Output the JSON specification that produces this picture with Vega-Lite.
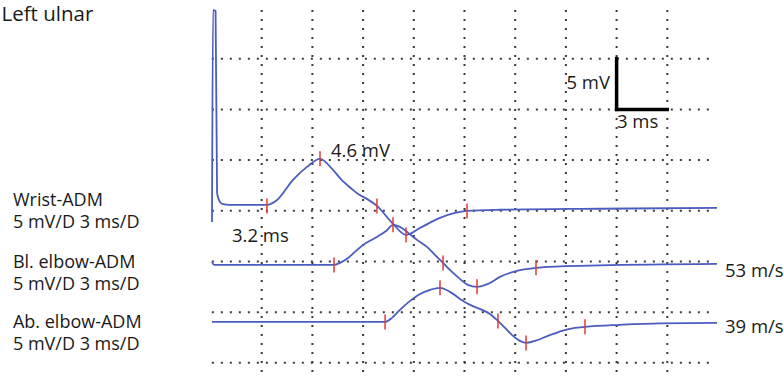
{
  "$schema": "https://vega.github.io/schema/vega-lite/v6.json",
  "width": 507,
  "height": 365,
  "autosize": {"type": "none"},
  "padding": {"left": 211, "top": 8, "right": 66, "bottom": 4},
  "background": "white",
  "view": {"stroke": null},
  "config": {"font": "Open Sans"},
  "datasets": {
    "traces": [
      {"trace": "Wrist-ADM", "t": 0.06, "v": 13.9},
      {"trace": "Wrist-ADM", "t": 0.12, "v": 34.8},
      {"trace": "Wrist-ADM", "t": 0.27, "v": 34.7},
      {"trace": "Wrist-ADM", "t": 0.36, "v": 16.77},
      {"trace": "Wrist-ADM", "t": 0.47, "v": 16.07},
      {"trace": "Wrist-ADM", "t": 0.65, "v": 15.68},
      {"trace": "Wrist-ADM", "t": 1.12, "v": 15.58},
      {"trace": "Wrist-ADM", "t": 3.31, "v": 15.58},
      {"trace": "Wrist-ADM", "t": 3.91, "v": 16.07},
      {"trace": "Wrist-ADM", "t": 4.85, "v": 18.05},
      {"trace": "Wrist-ADM", "t": 5.68, "v": 19.33},
      {"trace": "Wrist-ADM", "t": 6.45, "v": 20.12},
      {"trace": "Wrist-ADM", "t": 7.22, "v": 19.03},
      {"trace": "Wrist-ADM", "t": 7.7, "v": 18.1},
      {"trace": "Wrist-ADM", "t": 8.3, "v": 17.2},
      {"trace": "Wrist-ADM", "t": 8.75, "v": 16.6},
      {"trace": "Wrist-ADM", "t": 9.2, "v": 16.2},
      {"trace": "Wrist-ADM", "t": 9.82, "v": 15.48},
      {"trace": "Wrist-ADM", "t": 10.77, "v": 13.71},
      {"trace": "Wrist-ADM", "t": 11.54, "v": 12.62},
      {"trace": "Wrist-ADM", "t": 12.37, "v": 13.31},
      {"trace": "Wrist-ADM", "t": 13.55, "v": 14.3},
      {"trace": "Wrist-ADM", "t": 14.44, "v": 14.79},
      {"trace": "Wrist-ADM", "t": 15.15, "v": 14.99},
      {"trace": "Wrist-ADM", "t": 17.1, "v": 15.1},
      {"trace": "Wrist-ADM", "t": 23.0, "v": 15.2},
      {"trace": "Wrist-ADM", "t": 29.94, "v": 15.29},
      {"trace": "Bl. elbow-ADM", "t": 0.06, "v": 9.96},
      {"trace": "Bl. elbow-ADM", "t": 0.18, "v": 9.66},
      {"trace": "Bl. elbow-ADM", "t": 2.31, "v": 9.66},
      {"trace": "Bl. elbow-ADM", "t": 7.28, "v": 9.66},
      {"trace": "Bl. elbow-ADM", "t": 7.63, "v": 9.86},
      {"trace": "Bl. elbow-ADM", "t": 8.05, "v": 10.26},
      {"trace": "Bl. elbow-ADM", "t": 8.52, "v": 10.95},
      {"trace": "Bl. elbow-ADM", "t": 9.0, "v": 11.64},
      {"trace": "Bl. elbow-ADM", "t": 9.82, "v": 12.42},
      {"trace": "Bl. elbow-ADM", "t": 10.36, "v": 13.0},
      {"trace": "Bl. elbow-ADM", "t": 10.77, "v": 13.61},
      {"trace": "Bl. elbow-ADM", "t": 11.18, "v": 13.41},
      {"trace": "Bl. elbow-ADM", "t": 11.6, "v": 12.92},
      {"trace": "Bl. elbow-ADM", "t": 12.19, "v": 12.13},
      {"trace": "Bl. elbow-ADM", "t": 12.78, "v": 11.44},
      {"trace": "Bl. elbow-ADM", "t": 13.25, "v": 10.65},
      {"trace": "Bl. elbow-ADM", "t": 13.73, "v": 9.86},
      {"trace": "Bl. elbow-ADM", "t": 14.2, "v": 9.07},
      {"trace": "Bl. elbow-ADM", "t": 14.73, "v": 8.28},
      {"trace": "Bl. elbow-ADM", "t": 15.2, "v": 7.69},
      {"trace": "Bl. elbow-ADM", "t": 15.74, "v": 7.5},
      {"trace": "Bl. elbow-ADM", "t": 16.39, "v": 7.79},
      {"trace": "Bl. elbow-ADM", "t": 17.1, "v": 8.48},
      {"trace": "Bl. elbow-ADM", "t": 18.1, "v": 9.07},
      {"trace": "Bl. elbow-ADM", "t": 19.23, "v": 9.37},
      {"trace": "Bl. elbow-ADM", "t": 20.65, "v": 9.52},
      {"trace": "Bl. elbow-ADM", "t": 23.0, "v": 9.62},
      {"trace": "Bl. elbow-ADM", "t": 29.94, "v": 9.76},
      {"trace": "Ab. elbow-ADM", "t": 0.06, "v": 4.04},
      {"trace": "Ab. elbow-ADM", "t": 10.3, "v": 4.04},
      {"trace": "Ab. elbow-ADM", "t": 10.71, "v": 4.44},
      {"trace": "Ab. elbow-ADM", "t": 11.18, "v": 5.23},
      {"trace": "Ab. elbow-ADM", "t": 11.78, "v": 6.11},
      {"trace": "Ab. elbow-ADM", "t": 12.37, "v": 6.8},
      {"trace": "Ab. elbow-ADM", "t": 12.96, "v": 7.2},
      {"trace": "Ab. elbow-ADM", "t": 13.55, "v": 7.4},
      {"trace": "Ab. elbow-ADM", "t": 14.14, "v": 7.0},
      {"trace": "Ab. elbow-ADM", "t": 14.73, "v": 6.31},
      {"trace": "Ab. elbow-ADM", "t": 15.33, "v": 5.72},
      {"trace": "Ab. elbow-ADM", "t": 16.04, "v": 5.23},
      {"trace": "Ab. elbow-ADM", "t": 16.5, "v": 4.83},
      {"trace": "Ab. elbow-ADM", "t": 16.98, "v": 4.14},
      {"trace": "Ab. elbow-ADM", "t": 17.4, "v": 3.45},
      {"trace": "Ab. elbow-ADM", "t": 17.87, "v": 2.66},
      {"trace": "Ab. elbow-ADM", "t": 18.28, "v": 2.17},
      {"trace": "Ab. elbow-ADM", "t": 18.64, "v": 1.97},
      {"trace": "Ab. elbow-ADM", "t": 19.17, "v": 2.17},
      {"trace": "Ab. elbow-ADM", "t": 19.94, "v": 2.66},
      {"trace": "Ab. elbow-ADM", "t": 20.77, "v": 3.16},
      {"trace": "Ab. elbow-ADM", "t": 21.54, "v": 3.45},
      {"trace": "Ab. elbow-ADM", "t": 22.13, "v": 3.55},
      {"trace": "Ab. elbow-ADM", "t": 24.2, "v": 3.75},
      {"trace": "Ab. elbow-ADM", "t": 26.57, "v": 3.9},
      {"trace": "Ab. elbow-ADM", "t": 29.94, "v": 3.94}
    ],
    "markers": [
      {"trace": "Wrist-ADM", "t": 3.31, "v": 15.48},
      {"trace": "Wrist-ADM", "t": 6.45, "v": 20.12},
      {"trace": "Wrist-ADM", "t": 9.82, "v": 15.48},
      {"trace": "Wrist-ADM", "t": 11.54, "v": 12.62},
      {"trace": "Wrist-ADM", "t": 15.15, "v": 14.99},
      {"trace": "Bl. elbow-ADM", "t": 7.28, "v": 9.66},
      {"trace": "Bl. elbow-ADM", "t": 10.77, "v": 13.61},
      {"trace": "Bl. elbow-ADM", "t": 13.73, "v": 9.86},
      {"trace": "Bl. elbow-ADM", "t": 15.74, "v": 7.5},
      {"trace": "Bl. elbow-ADM", "t": 19.23, "v": 9.37},
      {"trace": "Ab. elbow-ADM", "t": 10.3, "v": 4.04},
      {"trace": "Ab. elbow-ADM", "t": 13.55, "v": 7.4},
      {"trace": "Ab. elbow-ADM", "t": 16.98, "v": 4.14},
      {"trace": "Ab. elbow-ADM", "t": 18.64, "v": 1.97},
      {"trace": "Ab. elbow-ADM", "t": 22.13, "v": 3.55}
    ],
    "gridV": [
      {"t": 3, "v": -0.9, "v2": 35},
      {"t": 6, "v": -0.9, "v2": 35},
      {"t": 9, "v": -0.9, "v2": 35},
      {"t": 12, "v": -0.9, "v2": 35},
      {"t": 15, "v": -0.9, "v2": 35},
      {"t": 18, "v": -0.9, "v2": 35},
      {"t": 21, "v": -0.9, "v2": 35},
      {"t": 24, "v": -0.9, "v2": 35},
      {"t": 27, "v": -0.9, "v2": 35}
    ],
    "gridH": [
      {"v": 0, "t": 0.05, "t2": 29.6},
      {"v": 5, "t": 0.05, "t2": 29.6},
      {"v": 10, "t": 0.05, "t2": 29.6},
      {"v": 15, "t": 0.05, "t2": 29.6},
      {"v": 20, "t": 0.05, "t2": 29.6},
      {"v": 25, "t": 0.05, "t2": 29.6},
      {"v": 30, "t": 0.05, "t2": 29.6}
    ],
    "scalebar": [
      {"t": 24, "t2": 24, "v": 25, "v2": 30},
      {"t": 24, "t2": 27, "v": 25, "v2": 25}
    ],
    "labelsStack": [
      {"t": -11.72, "v": 15.48, "text": "Wrist-ADM"},
      {"t": -11.72, "v": 13.26, "text": "5 mV/D 3 ms/D"},
      {"t": -11.72, "v": 9.37, "text": "Bl. elbow-ADM"},
      {"t": -11.72, "v": 7.2, "text": "5 mV/D 3 ms/D"},
      {"t": -11.72, "v": 3.45, "text": "Ab. elbow-ADM"},
      {"t": -11.72, "v": 1.28, "text": "5 mV/D 3 ms/D"}
    ],
    "labelsLeft": [
      {"t": 7.1, "v": 20.32, "text": "4.6 mV"},
      {"t": 1.24, "v": 11.93, "text": "3.2 ms"},
      {"t": 24.02, "v": 23.18, "text": "3 ms"},
      {"t": 30.41, "v": 8.48, "text": "53 m/s"},
      {"t": 30.41, "v": 2.96, "text": "39 m/s"}
    ],
    "labelsTitle": [
      {"t": -12.4, "v": 33.73, "text": "Left ulnar"}
    ],
    "labelsRight": [
      {"t": 23.61, "v": 27.02, "text": "5 mV"}
    ]
  },
  "encoding": {
    "x": {"field": "t", "type": "quantitative", "scale": {"domain": [0, 30], "nice": false, "zero": false}, "axis": null},
    "y": {"field": "v", "type": "quantitative", "scale": {"domain": [-1, 35], "nice": false, "zero": false}, "axis": null}
  },
  "layer": [
    {
      "data": {"name": "gridV"},
      "mark": {"type": "rule", "color": "#3a3a3a", "strokeWidth": 2, "strokeDash": [2, 7]},
      "encoding": {"y2": {"field": "v2"}}
    },
    {
      "data": {"name": "gridH"},
      "mark": {"type": "rule", "color": "#3a3a3a", "strokeWidth": 2, "strokeDash": [2, 7]},
      "encoding": {"x2": {"field": "t2"}}
    },
    {
      "data": {"name": "traces"},
      "mark": {"type": "line", "color": "#4a5cbf", "strokeWidth": 1.8, "interpolate": "monotone"},
      "encoding": {"detail": {"field": "trace"}}
    },
    {
      "data": {"name": "markers"},
      "mark": {"type": "tick", "orient": "vertical", "color": "#e53935", "size": 15, "thickness": 1.5, "opacity": 1}
    },
    {
      "data": {"name": "scalebar"},
      "mark": {"type": "rule", "color": "black", "strokeWidth": 3.5, "strokeCap": "square"},
      "encoding": {"x2": {"field": "t2"}, "y2": {"field": "v2"}}
    },
    {
      "data": {"name": "labelsStack"},
      "mark": {"type": "text", "align": "left", "baseline": "alphabetic", "fontSize": 18, "color": "#1a1a1a"},
      "encoding": {"text": {"field": "text"}}
    },
    {
      "data": {"name": "labelsLeft"},
      "mark": {"type": "text", "align": "left", "baseline": "alphabetic", "fontSize": 18.5, "color": "#1a1a1a"},
      "encoding": {"text": {"field": "text"}}
    },
    {
      "data": {"name": "labelsTitle"},
      "mark": {"type": "text", "align": "left", "baseline": "alphabetic", "fontSize": 20.5, "color": "#1a1a1a"},
      "encoding": {"text": {"field": "text"}}
    },
    {
      "data": {"name": "labelsRight"},
      "mark": {"type": "text", "align": "right", "baseline": "alphabetic", "fontSize": 18.5, "color": "#1a1a1a"},
      "encoding": {"text": {"field": "text"}}
    }
  ]
}
